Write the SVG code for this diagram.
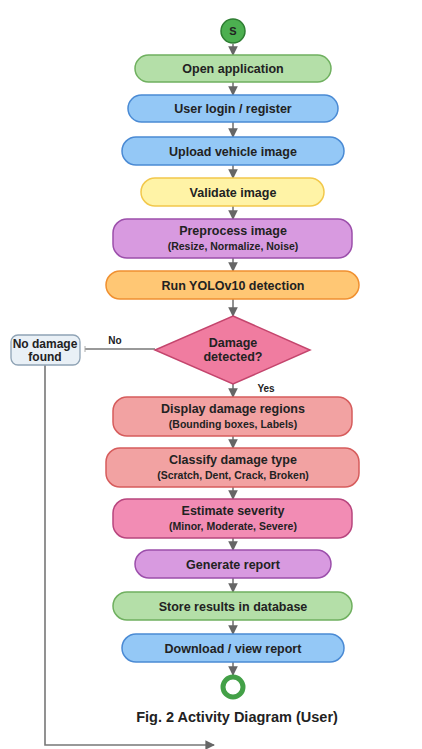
<svg xmlns="http://www.w3.org/2000/svg" width="422" height="749" viewBox="0 0 422 749">
<defs>
<marker id="ah" viewBox="0 0 10 10" refX="9" refY="5" markerWidth="6" markerHeight="6" orient="auto"><path d="M0,0 L10,5 L0,10 z" fill="#666"/></marker>
<style>
text{font-family:"Liberation Sans",Arial,sans-serif;font-weight:bold;fill:#222;text-anchor:middle}
.t{font-size:12.5px}
.s{font-size:10.5px}
.l{font-size:10px}
.c{stroke:#777;stroke-width:1.6;fill:none;marker-end:url(#ah)}
.p{stroke:#777;stroke-width:1.6;fill:none}
.n{stroke-width:1.5}
.green{fill:#b4dfa8;stroke:#6fb05f}
.blue{fill:#94c8f6;stroke:#4a8ad4}
.yellow{fill:#fff3a6;stroke:#f2c84b}
.purple{fill:#d89ae0;stroke:#9c4fab}
.orange{fill:#ffc774;stroke:#f09030}
.red{fill:#f2a2a2;stroke:#d65c5c}
.pink{fill:#f28cb4;stroke:#b8457e}
</style>
</defs>
<rect width="422" height="749" fill="#fff"/>
<g id="connectors">
<line class="c" x1="233" y1="44" x2="233" y2="55"/>
<line class="c" x1="233" y1="82" x2="233" y2="95"/>
<line class="c" x1="233" y1="122" x2="233" y2="137"/>
<line class="c" x1="233" y1="165" x2="233" y2="178"/>
<line class="c" x1="233" y1="206" x2="233" y2="219"/>
<line class="c" x1="233" y1="258" x2="233" y2="271"/>
<line class="c" x1="233" y1="299" x2="233" y2="316"/>
<line class="c" x1="233" y1="384" x2="233" y2="397"/>
<line class="c" x1="233" y1="436" x2="233" y2="448"/>
<line class="c" x1="233" y1="487" x2="233" y2="499"/>
<line class="c" x1="233" y1="538" x2="233" y2="550"/>
<line class="c" x1="233" y1="578" x2="233" y2="592"/>
<line class="c" x1="233" y1="620" x2="233" y2="634"/>
<line class="c" x1="233" y1="662" x2="233" y2="675"/>
<line class="p" x1="155" y1="349" x2="85" y2="349"/>
<line x1="85" y1="346" x2="85" y2="352" stroke="#aaa" stroke-width="1"/>
<polyline class="c" points="45,365 45,745 214,745"/>
<text x="115" y="344" class="l">No</text>
<text x="266" y="392" class="l">Yes</text>
</g>
<g id="start"><circle cx="233" cy="31" r="12" fill="#4caf50" stroke="#2e7d32" stroke-width="1.5"/><text x="233" y="35" font-size="11">S</text></g>
<g id="open"><rect class="n green" x="135" y="55" width="196" height="27" rx="13.5"/><text x="233" y="72.5" class="t">Open application</text></g>
<g id="login"><rect class="n blue" x="128" y="95" width="210" height="27" rx="13.5"/><text x="233" y="112.5" class="t">User login / register</text></g>
<g id="upload"><rect class="n blue" x="122" y="137" width="222" height="28" rx="14"/><text x="233" y="155.5" class="t">Upload vehicle image</text></g>
<g id="validate"><rect class="n yellow" x="141" y="178" width="183" height="28" rx="14"/><text x="233" y="196.5" class="t">Validate image</text></g>
<g id="preprocess"><rect class="n purple" x="113" y="219" width="239" height="39" rx="14"/><text x="233" y="235" class="t">Preprocess image</text><text x="233" y="250" class="s">(Resize, Normalize, Noise)</text></g>
<g id="yolo"><rect class="n orange" x="106" y="271" width="253" height="28" rx="14"/><text x="233" y="289.5" class="t">Run YOLOv10 detection</text></g>
<g id="decision"><polygon class="n" points="233,316 310,350 233,384 155,350" fill="#f07ca0" stroke="#c4456d"/><text x="233" y="347" class="t">Damage</text><text x="233" y="361" class="t">detected?</text></g>
<g id="nodamage"><rect x="11" y="335" width="69" height="30" rx="7" fill="#e9f0f6" stroke="#8fa3b5" stroke-width="1.3"/><text x="45" y="348" font-size="12">No damage</text><text x="45" y="361" font-size="12">found</text></g>
<g id="display"><rect class="n red" x="113" y="397" width="239" height="39" rx="14"/><text x="233" y="413" class="t">Display damage regions</text><text x="233" y="428" class="s">(Bounding boxes, Labels)</text></g>
<g id="classify"><rect class="n red" x="106" y="448" width="253" height="39" rx="14"/><text x="233" y="464" class="t">Classify damage type</text><text x="233" y="479" class="s">(Scratch, Dent, Crack, Broken)</text></g>
<g id="severity"><rect class="n pink" x="113" y="499" width="239" height="39" rx="14"/><text x="233" y="515" class="t">Estimate severity</text><text x="233" y="530" class="s">(Minor, Moderate, Severe)</text></g>
<g id="report"><rect class="n purple" x="135" y="550" width="196" height="28" rx="14"/><text x="233" y="568.5" class="t">Generate report</text></g>
<g id="store"><rect class="n green" x="113" y="592" width="239" height="28" rx="14"/><text x="233" y="610.5" class="t">Store results in database</text></g>
<g id="download"><rect class="n blue" x="122" y="634" width="222" height="28" rx="14"/><text x="233" y="652.5" class="t">Download / view report</text></g>
<g id="end"><circle cx="233" cy="687" r="10" fill="#fff" stroke="#43a047" stroke-width="5"/></g>
<g id="caption"><text x="237" y="722" font-size="14.5">Fig. 2 Activity Diagram (User)</text></g>
</svg>
